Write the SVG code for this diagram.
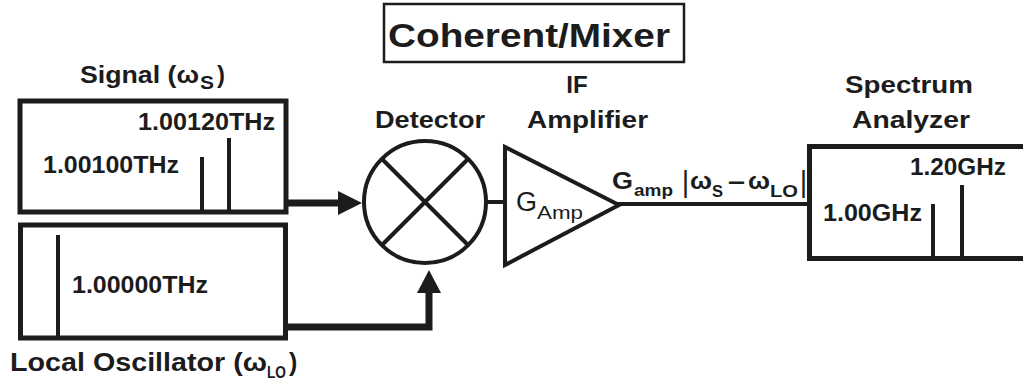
<svg xmlns="http://www.w3.org/2000/svg" width="1023" height="384" viewBox="0 0 1023 384">
<style>
.b{font-family:"Liberation Sans",Arial,sans-serif;font-weight:bold;fill:#1c1c1c}
.r{font-family:"Liberation Sans",Arial,sans-serif;font-weight:normal;fill:#1c1c1c}
.box{fill:#fff;stroke:#1c1c1c;stroke-width:5}
.ln{stroke:#1c1c1c;stroke-width:4;fill:none}
.fat{stroke:#1c1c1c;stroke-width:7;fill:none}
.ah{fill:#1c1c1c}
</style>
<rect width="1023" height="384" fill="#fff"/>
<g id="title">
<rect x="384" y="4" width="300" height="58" fill="#fff" stroke="#1c1c1c" stroke-width="2.5"/>
<text class="b" x="388" y="47" font-size="34" textLength="282" lengthAdjust="spacingAndGlyphs">Coherent/Mixer</text>
</g>
<g id="signal">
<rect class="box" x="20" y="101" width="266" height="111"/>
<line class="ln" x1="202" y1="157" x2="202" y2="212"/>
<line class="ln" x1="229" y1="138" x2="229" y2="212"/>
<text class="b" x="138" y="130" font-size="24" textLength="137" lengthAdjust="spacingAndGlyphs">1.00120THz</text>
<text class="b" x="43" y="173" font-size="24" textLength="136" lengthAdjust="spacingAndGlyphs">1.00100THz</text>
<text class="b" x="80" y="83" font-size="24" textLength="119" lengthAdjust="spacingAndGlyphs">Signal (ω</text>
<text class="b" x="200" y="89" font-size="18" textLength="14" lengthAdjust="spacingAndGlyphs">S</text>
<text class="b" x="217" y="83" font-size="24">)</text>
</g>
<g id="local-oscillator">
<rect class="box" x="20.5" y="225" width="265" height="113"/>
<line class="ln" x1="58" y1="235" x2="58" y2="338"/>
<text class="b" x="72" y="293" font-size="24" textLength="136" lengthAdjust="spacingAndGlyphs">1.00000THz</text>
<text class="b" x="10" y="371" font-size="25" textLength="257" lengthAdjust="spacingAndGlyphs">Local Oscillator (ω</text>
<text class="b" x="267" y="378" font-size="17" textLength="19" lengthAdjust="spacingAndGlyphs">LO</text>
<text class="b" x="289" y="371" font-size="25">)</text>
</g>
<g id="detector">
<circle cx="425" cy="202" r="61" fill="#fff" stroke="#1c1c1c" stroke-width="4"/>
<line class="ln" x1="382" y1="159" x2="468" y2="245"/>
<line class="ln" x1="468" y1="159" x2="382" y2="245"/>
<text class="b" x="375" y="128" font-size="24" textLength="110" lengthAdjust="spacingAndGlyphs">Detector</text>
</g>
<g id="if-amplifier">
<polygon points="505,147 505,265 619,205" fill="#fff" stroke="#1c1c1c" stroke-width="4" stroke-linejoin="miter"/>
<text class="b" x="577" y="93" font-size="24" text-anchor="middle">IF</text>
<text class="b" x="527" y="128" font-size="24" textLength="121" lengthAdjust="spacingAndGlyphs">Amplifier</text>
<text class="r" x="516" y="211" font-size="27">G</text>
<text class="r" x="537" y="219" font-size="19" textLength="46" lengthAdjust="spacingAndGlyphs">Amp</text>
</g>
<g id="spectrum-analyzer">
<rect class="box" x="809.5" y="146.5" width="230" height="112"/>
<line class="ln" x1="933" y1="204" x2="933" y2="258"/>
<line class="ln" x1="962" y1="185" x2="962" y2="258"/>
<text class="b" x="845" y="93" font-size="23" textLength="128" lengthAdjust="spacingAndGlyphs">Spectrum</text>
<text class="b" x="852" y="128" font-size="23" textLength="118" lengthAdjust="spacingAndGlyphs">Analyzer</text>
<text class="b" x="910" y="175" font-size="23" textLength="96" lengthAdjust="spacingAndGlyphs">1.20GHz</text>
<text class="b" x="823" y="221" font-size="23" textLength="99" lengthAdjust="spacingAndGlyphs">1.00GHz</text>
</g>
<g id="connectors">
<line class="fat" x1="288" y1="203" x2="340" y2="203"/>
<polygon class="ah" points="338,191 362,203 338,215"/>
<path class="fat" d="M288,327 H429 V291"/>
<polygon class="ah" points="417,293 429,270 441,293"/>
<line class="ln" x1="486" y1="202" x2="505" y2="202"/>
<line class="ln" x1="617" y1="204" x2="809" y2="204"/>
</g>
<g id="output-label">
<text class="b" x="612" y="189" font-size="24" textLength="21" lengthAdjust="spacingAndGlyphs">G</text>
<text class="b" x="634" y="196" font-size="17" textLength="39" lengthAdjust="spacingAndGlyphs">amp</text>
<text class="b" x="683" y="192" font-size="30" textLength="5" lengthAdjust="spacingAndGlyphs">|</text>
<text class="b" x="690" y="189" font-size="24" textLength="22" lengthAdjust="spacingAndGlyphs">ω</text>
<text class="b" x="712" y="197" font-size="17" textLength="11" lengthAdjust="spacingAndGlyphs">S</text>
<text class="b" x="728" y="189" font-size="24" textLength="17" lengthAdjust="spacingAndGlyphs">–</text>
<text class="b" x="748" y="189" font-size="24" textLength="22" lengthAdjust="spacingAndGlyphs">ω</text>
<text class="b" x="770" y="197" font-size="17" textLength="28" lengthAdjust="spacingAndGlyphs">LO</text>
<text class="b" x="801" y="192" font-size="30" textLength="5" lengthAdjust="spacingAndGlyphs">|</text>
</g>
</svg>
